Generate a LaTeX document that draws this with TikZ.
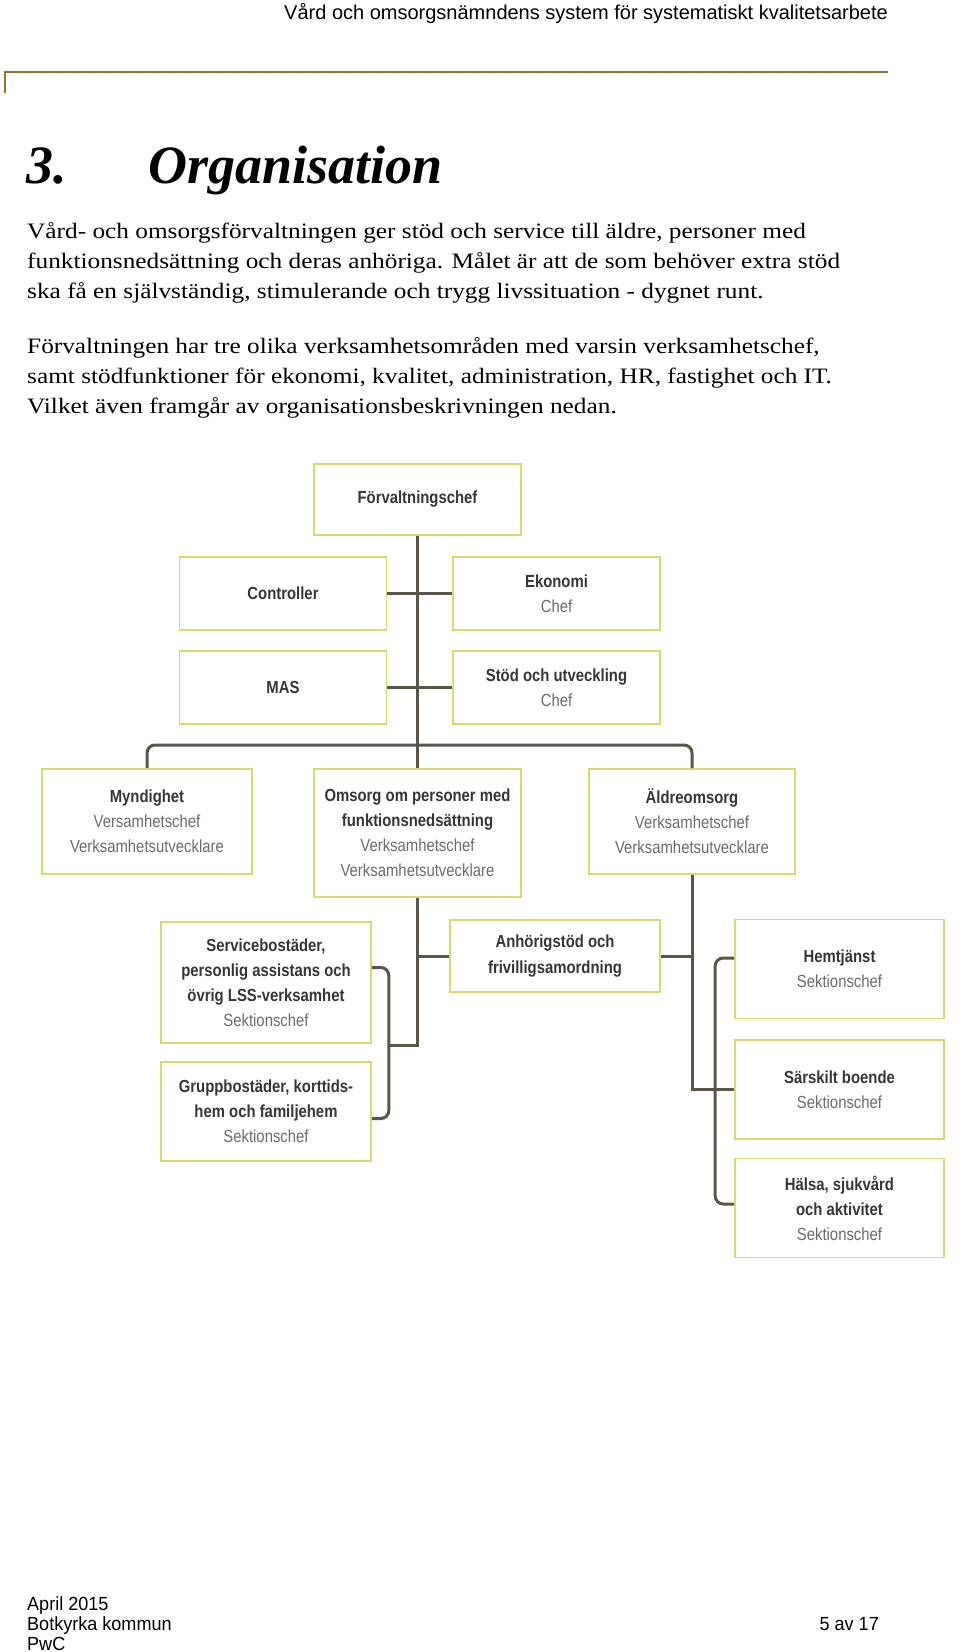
\documentclass[tikz,border=0pt]{standalone}
\usepackage{fontspec}
\setmainfont{Liberation Serif}[FakeStretch=1.15]
\newfontfamily\rubrikSerif{Liberation Serif}
\newfontfamily\sansSida{Liberation Sans}
\newfontfamily\sansFot{Liberation Sans}[FakeStretch=0.95]
\newfontfamily\sansOrg{Liberation Sans}[FakeStretch=0.85]
\usetikzlibrary{calc}
\definecolor{brunlinje}{HTML}{A36F2C}
\definecolor{gulram}{HTML}{D9D96C}
\definecolor{morklinje}{HTML}{5C5549}
\definecolor{textmork}{HTML}{363636}
\definecolor{textgra}{HTML}{6C6C6C}
\newcommand{\roll}[1]{{\color{textgra}\mdseries #1}}
\tikzset{
  rutaBas/.style={
    draw=gulram, line width=1.6pt, fill=white,
    inner sep=2pt, align=center, text=textmork,
    font=\sansOrg\bfseries\fontsize{17.5}{25}\selectfont
  },
  rutaLiten/.style={rutaBas, minimum width=207pt, minimum height=73pt},
  rutaMellan/.style={rutaBas, minimum width=209pt, minimum height=99pt},
  rutaStor/.style={rutaBas, minimum width=210pt, minimum height=105pt},
  linje/.style={morklinje, line width=3pt},
  klammer/.style={linje, rounded corners=8pt},
  brodtext/.style={anchor=base west, inner sep=0pt, font=\fontsize{22}{30}\selectfont},
  rubrik/.style={anchor=base west, inner sep=0pt, font=\rubrikSerif\bfseries\itshape\fontsize{54}{60}\selectfont},
  sidtext/.style={inner sep=0pt, font=\sansSida\fontsize{20}{22}\selectfont},
  fottext/.style={inner sep=0pt, font=\sansFot\fontsize{19}{22}\selectfont},
}

\begin{document}
\begin{tikzpicture}[x=1pt, y=-1pt]
  \useasboundingbox[fill=white] (0,0) rectangle (960,1652);

  % sidhuvud
  \node[sidtext, anchor=base east] (sidhuvud) at (888,19)
    {Vård och omsorgsnämndens system för systematiskt kvalitetsarbete};
  \draw[brunlinje, line width=1.5pt] (5,93) -- (5,72) -- (888,72);

  % rubrik och brödtext
  \node[rubrik] (kapitelNr) at (26,183) {3.};
  \node[rubrik] (kapitelNamn) at (148,183) {Organisation};
  \node[brodtext] (rad1) at (27,238) {Vård- och omsorgsförvaltningen ger stöd och service till äldre, personer med};
  \node[brodtext] (rad2) at (27,268) {funktionsnedsättning och deras anhöriga. Målet är att de som behöver extra stöd};
  \node[brodtext] (rad3) at (27,298) {ska få en självständig, stimulerande och trygg livssituation - dygnet runt.};
  \node[brodtext] (rad4) at (27,353) {Förvaltningen har tre olika verksamhetsområden med varsin verksamhetschef,};
  \node[brodtext] (rad5) at (27,383) {samt stödfunktioner för ekonomi, kvalitet, administration, HR, fastighet och IT.};
  \node[brodtext] (rad6) at (27,413) {Vilket även framgår av organisationsbeskrivningen nedan.};

  % organisationsschema
  \node[rutaLiten, minimum height=71pt] (forvaltning) at (417.5,499.5) {Förvaltningschef};
  \node[rutaLiten] (controller) at (283,593.5) {Controller};
  \node[rutaLiten] (ekonomi) at (556.5,593.5) {Ekonomi\\\roll{Chef}};
  \node[rutaLiten] (mas) at (283,687.5) {MAS};
  \node[rutaLiten] (stod) at (556.5,687.5) {Stöd och utveckling\\\roll{Chef}};

  \node[rutaStor] (myndighet) at (147,821.5)
    {Myndighet\\\roll{Versamhetschef}\\\roll{Verksamhetsutvecklare}};
  \node[rutaLiten, minimum height=128pt] (omsorg) at (417.5,833)
    {Omsorg om personer med\\funktionsnedsättning\\\roll{Verksamhetschef}\\\roll{Verksamhetsutvecklare}};
  \node[rutaStor, minimum width=206pt] (aldre) at (692,821.5)
    {Äldreomsorg\\\roll{Verksamhetschef}\\\roll{Verksamhetsutvecklare}};

  \node[rutaStor, minimum height=121pt] (service) at (266,982.5)
    {Servicebostäder,\\personlig assistans och\\övrig LSS-verksamhet\\\roll{Sektionschef}};
  \node[rutaStor, minimum height=99pt] (grupp) at (266,1111.5)
    {Gruppbostäder, korttids-\\hem och familjehem\\\roll{Sektionschef}};
  \node[rutaStor, minimum height=72pt] (anhorig) at (555,956)
    {Anhörigstöd och\\frivilligsamordning};

  \node[rutaMellan] (hemtjanst) at (839.5,969) {Hemtjänst\\\roll{Sektionschef}};
  \node[rutaMellan] (sarskilt) at (839.5,1089.5) {Särskilt boende\\\roll{Sektionschef}};
  \node[rutaMellan] (halsa) at (839.5,1208) {Hälsa, sjukvård\\och aktivitet\\\roll{Sektionschef}};

  \coordinate (buss) at (417.5,745);
  \coordinate (gren) at (388,1045);

  \draw[linje] (forvaltning.south) -- (omsorg.north);
  \draw[linje] (controller) -- (ekonomi);
  \draw[linje] (mas) -- (stod);
  \draw[klammer] (myndighet.north) |- (buss) -| (aldre.north);
  \draw[linje] (omsorg.south) |- (gren);
  \draw[klammer] ($(service.east)+(0,-15)$) -- ++(17,0) |- ($(grupp.east)+(0,7)$);
  \draw[linje] (omsorg.south |- anhorig.west) -- (anhorig.west);
  \draw[linje] (anhorig.east) -- (aldre.south |- anhorig.east);
  \draw[linje] (aldre.south) |- (sarskilt.west);
  \draw[klammer] ($(hemtjanst.west)+(0,-11)$) -- ++(-19,0) |- ($(halsa.west)+(0,-4)$);

  % sidfot
  \node[fottext, anchor=base west] (datum) at (27,1610) {April 2015};
  \node[fottext, anchor=base west] (kommun) at (27,1630) {Botkyrka kommun};
  \node[fottext, anchor=base west] (firma) at (27,1650) {PwC};
  \node[fottext, anchor=base east] (sidnr) at (879,1630) {5 av 17};
\end{tikzpicture}
\end{document}
